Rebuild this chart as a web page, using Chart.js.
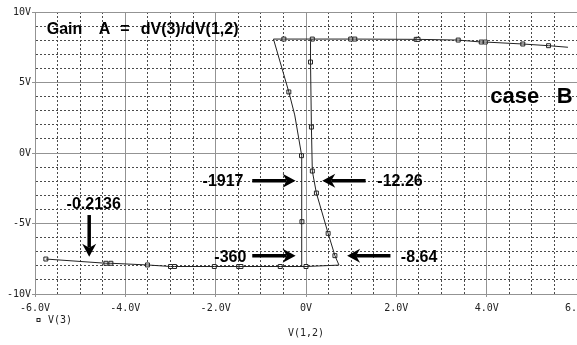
<!DOCTYPE html>
<html>
<head>
<meta charset="utf-8">
<script src="https://cdn.jsdelivr.net/npm/chart.js@4/dist/chart.umd.min.js"></script>
<style>
  html, body { margin: 0; padding: 0; background: #fff; }
  #wrap { width: 577px; height: 345px; }
</style>
</head>
<body>
<div id="wrap"><canvas id="plot" width="577" height="345"></canvas></div>
<script>
// ------------------------------------------------------------
// PSpice-style transfer curve: V(3) vs V(1,2), case B.
// Values (volts).
// ------------------------------------------------------------

// Main trace: bottom rail -> right branch up -> top rail to the right
const traceX = [-5.76, -4.43, -4.32, -3.51, -3.00, -2.91, -2.03, -1.49, -1.44, -0.57, 0.00, 0.73,
                0.64, 0.49, 0.23, 0.14, 0.12, 0.10, 0.10, 0.14,
                0.99, 1.08, 2.44, 2.48, 3.37, 3.88, 3.97, 4.80, 5.37, 5.80];
const traceY = [-7.52, -7.82, -7.82, -7.94, -8.05, -8.05, -8.05, -8.05, -8.05, -8.05, -8.05, -7.95,
                -7.28, -5.70, -2.84, -1.28, 1.84, 6.45, 7.90, 8.08,
                8.08, 8.08, 8.06, 8.06, 8.01, 7.87, 7.87, 7.73, 7.61, 7.50];

// Second branch: up from the bottom rail near -0.1 V, slanting back to the top rail
const branchX = [-0.09, -0.09, -0.10, -0.25, -0.38, -0.72, -0.49, 0.14];
const branchY = [-8.03, -4.87, -0.19, 2.70, 4.33, 8.08, 8.08, 8.08];

// Probe markers (small squares on the trace)
const markX = [-5.76, -4.43, -4.32, -3.51, -3.00, -2.91, -2.03, -1.49, -1.44, -0.57, 0.00,
               0.64, 0.49, 0.23, 0.14, 0.12, 0.10,
               -0.49, 0.14, 0.99, 1.08, 2.44, 2.48, 3.37, 3.88, 3.97, 4.80, 5.37,
               -0.38, -0.10, -0.09];
const markY = [-7.52, -7.82, -7.82, -7.94, -8.05, -8.05, -8.05, -8.05, -8.05, -8.05, -8.05,
               -7.28, -5.70, -2.84, -1.28, 1.84, 6.45,
               8.08, 8.08, 8.08, 8.08, 8.06, 8.06, 8.01, 7.87, 7.87, 7.73, 7.61,
               4.33, -0.19, -4.87];

// Axis ticks (labelled ones only; grid also has minor dotted lines)
const xTickLabels = { "-6": "-6.0V", "-4": "-4.0V", "-2": "-2.0V", "0": "0V", "2": "2.0V", "4": "4.0V", "6": "6.0V" };
const yTickLabels = { "10": "10V", "5": "5V", "0": "0V", "-5": "-5V", "-10": "-10V" };

// Slope annotations: text + arrow (data coords)
const notes = [
  { text: "-1917",   x: -2.29, y: -2.32 },
  { text: "-12.26",  x:  1.58, y: -2.32 },
  { text: "-360",    x: -2.03, y: -7.71 },
  { text: "-8.64",   x:  2.10, y: -7.71 },
  { text: "-0.2136", x: -5.30, y: -3.99 },
];
const arrows = [
  { x0: -1.19, y0: -1.96, x1: -0.23, y1: -1.96 },
  { x0:  1.32, y0: -1.96, x1:  0.36, y1: -1.96 },
  { x0: -1.19, y0: -7.28, x1: -0.23, y1: -7.28 },
  { x0:  1.87, y0: -7.28, x1:  0.91, y1: -7.28 },
  { x0: -4.80, y0: -4.40, x1: -4.80, y1: -7.35 },
];

const MONO = "'DejaVu Sans Mono', monospace";
const SANS = "'Liberation Sans', Arial, sans-serif";
const MAJOR = "#939393", MINOR = "#4a4a4a", INK = "#222";

const pts = (xs, ys) => xs.map((x, i) => ({ x, y: ys[i] }));
const isMajor = (v, step) => Math.abs(v / step - Math.round(v / step)) < 1e-9;

function arrow(ctx, x0, y0, x1, y1) {
  const ang = Math.atan2(y1 - y0, x1 - x0);
  const head = 13, half = 7, notch = 9;
  ctx.save();
  ctx.translate(x1, y1);
  ctx.rotate(ang);
  const len = Math.hypot(x1 - x0, y1 - y0);
  ctx.lineWidth = 3.5;
  ctx.strokeStyle = "#000";
  ctx.beginPath();
  ctx.moveTo(-len, 0);
  ctx.lineTo(-notch, 0);
  ctx.stroke();
  ctx.fillStyle = "#000";
  ctx.beginPath();
  ctx.moveTo(0, 0);
  ctx.lineTo(-head, -half);
  ctx.lineTo(-notch, 0);
  ctx.lineTo(-head, half);
  ctx.closePath();
  ctx.fill();
  ctx.restore();
}

const annotate = {
  id: "annotate",
  afterDraw(chart) {
    const { ctx, chartArea } = chart;
    const sx = chart.scales.x, sy = chart.scales.y;
    const px = v => sx.getPixelForValue(v), py = v => sy.getPixelForValue(v);
    ctx.save();
    ctx.fillStyle = "#000";
    ctx.textBaseline = "alphabetic";
    ctx.textAlign = "left";

    // title inside plot
    ctx.font = "bold 16px " + SANS;
    const ty = py(8.42);
    ctx.fillText("Gain", px(-5.74), ty);
    ctx.fillText("A", px(-4.59), ty);
    ctx.fillText("=", px(-4.11), ty);
    ctx.fillText("dV(3)/dV(1,2)", px(-3.66), ty);

    ctx.font = "bold 22px " + SANS;
    ctx.fillText("case", px(4.08), py(3.55));
    ctx.fillText("B", px(5.55), py(3.55));

    ctx.font = "bold 16px " + SANS;
    notes.forEach(n => ctx.fillText(n.text, px(n.x), py(n.y)));
    arrows.forEach(a => arrow(ctx, px(a.x0), py(a.y0), px(a.x1), py(a.y1)));

    // legend under the axis
    const lx = chartArea.left + 3.5, ly = chartArea.bottom + 26;
    ctx.strokeStyle = INK;
    ctx.lineWidth = 1;
    ctx.strokeRect(lx - 1.5, ly - 1.5, 3, 3);
    ctx.fillStyle = INK;
    ctx.font = "10px " + MONO;
    ctx.textBaseline = "middle";
    ctx.fillText("V(3)", lx + 9.5, ly);
    ctx.restore();
  }
};

new Chart(document.getElementById("plot"), {
  type: "scatter",
  data: {
    datasets: [
      { data: pts(traceX, traceY), showLine: true, pointRadius: 0, borderColor: INK, borderWidth: 1 },
      { data: pts(branchX, branchY), showLine: true, pointRadius: 0, borderColor: INK, borderWidth: 1 },
      { data: pts(markX, markY), showLine: false, pointStyle: "rect", pointRadius: 2.8,
        borderColor: INK, backgroundColor: "#fff", borderWidth: 1 },
    ],
  },
  options: {
    responsive: false, animation: false,
    layout: { autoPadding: false, padding: { top: 12, right: -2, left: 0, bottom: 0 } },
    plugins: { legend: { display: false }, tooltip: { enabled: false } },
    scales: {
      x: {
        type: "linear", min: -6, max: 6,
        afterFit: s => { s.height = 51; s.paddingLeft = 0; s.paddingRight = 0; },
        ticks: {
          stepSize: 0.5, autoSkip: false, maxRotation: 0, padding: 5,
          color: INK, font: { family: MONO, size: 10 },
          callback: v => xTickLabels[String(v)] || "",
        },
        grid: {
          color: c => isMajor(c.tick.value, 2) ? MAJOR : MINOR,
          tickColor: c => isMajor(c.tick.value, 2) ? MAJOR : "rgba(0,0,0,0)",
          tickLength: 3, lineWidth: 1,
        },
        border: { color: MAJOR, dash: c => isMajor(c.tick.value, 2) ? [] : [2, 2] },
        title: { display: true, text: "V(1,2)", color: INK, font: { family: MONO, size: 10 },
                 padding: { top: 0, bottom: 6 } },
      },
      y: {
        type: "linear", min: -10, max: 10,
        afterFit: s => { s.width = 35; s.paddingTop = 0; s.paddingBottom = 0; },
        ticks: {
          stepSize: 1, autoSkip: false, padding: 1,
          color: INK, font: { family: MONO, size: 10 },
          callback: v => yTickLabels[String(v)] || "",
        },
        grid: {
          color: c => isMajor(c.tick.value, 5) ? MAJOR : MINOR,
          tickColor: c => isMajor(c.tick.value, 5) ? MAJOR : "rgba(0,0,0,0)",
          tickLength: 3, lineWidth: 1,
        },
        border: { color: MAJOR, dash: c => isMajor(c.tick.value, 5) ? [] : [2, 2] },
      },
    },
  },
  plugins: [annotate],
});
</script>
</body>
</html>
